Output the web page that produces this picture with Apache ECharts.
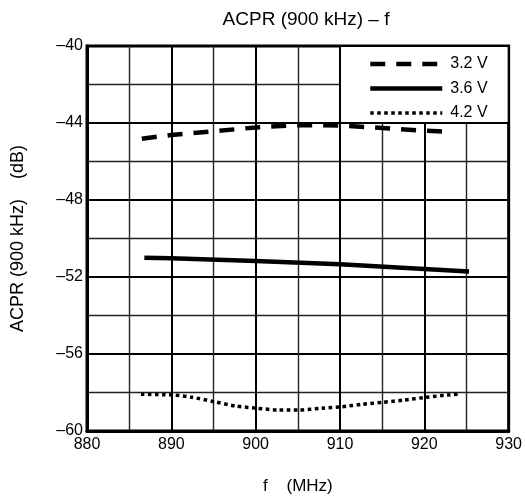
<!DOCTYPE html>
<html>
<head>
<meta charset="utf-8">
<script src="https://cdn.jsdelivr.net/npm/echarts@6/dist/echarts.min.js"></script>
<style>html,body{margin:0;padding:0;background:#fff;}#c{width:525px;height:502px;}</style>
</head>
<body>
<div id="c"></div>
<script>
var xTicksMin = 880, xTicksMax = 930, xStep = 10;
var yTicksMin = -60, yTicksMax = -40, yStep = 4;
var seriesNames = ['3.2 V', '3.6 V', '4.2 V'];
var f32 = [886.5, 890, 895, 900, 905, 910, 915, 920, 922.5];
var v32 = [-44.82, -44.62, -44.43, -44.23, -44.11, -44.13, -44.26, -44.4, -44.45];
var f36 = [886.8, 890, 900, 910, 920, 925.3];
var v36 = [-51.0, -51.03, -51.17, -51.34, -51.58, -51.72];
var f42 = [886.4, 890.2, 892.5, 895.1, 897.6, 900.2, 902.7, 905.1, 907.8, 910.2, 912.7, 915.1, 917.6, 920.2, 922.7, 924.3];
var v42 = [-58.09, -58.13, -58.25, -58.48, -58.70, -58.82, -58.91, -58.91, -58.82, -58.74, -58.61, -58.51, -58.39, -58.25, -58.13, -58.08];
var legendBox = {x0: 910, x1: 930, y0: -44, y1: -40};

function pairs(xs, ys) { return xs.map(function (x, i) { return [x, ys[i]]; }); }
var FONT = 'Liberation Sans, Arial, sans-serif';
var styles = [
  {color: '#000', width: 4.5, type: [15, 11], cap: 'butt'},
  {color: '#000', width: 4.5, type: 'solid'},
  {color: '#000', width: 3.5, type: [3.5, 3.5], cap: 'butt'}
];
var chart = echarts.init(document.getElementById('c'));
chart.setOption({
  animation: false,
  backgroundColor: '#fff',
  title: {
    text: 'ACPR (900 kHz) – f', left: 301, top: 5, textAlign: 'center',
    textStyle: {fontFamily: FONT, fontSize: 19, fontWeight: 'normal', color: '#000'}
  },
  legend: {
    orient: 'vertical', left: 363, top: 51, itemWidth: 72, itemHeight: 14, itemGap: 8.5,
    itemStyle: {opacity: 0, borderWidth: 0},
    textStyle: {fontFamily: FONT, fontSize: 16, color: '#000', padding: [0, 0, 0, 3]},
    data: seriesNames.map(function (n, i) {
      return {name: n, lineStyle: {width: i === 2 ? 3.5 : 4.5, type: styles[i].type, color: '#000'}};
    })
  },
  grid: {left: 87, right: 13, top: 46, bottom: 71, show: true, borderColor: '#000', borderWidth: 3, backgroundColor: 'transparent'},
  xAxis: {
    type: 'value', min: xTicksMin, max: xTicksMax, interval: xStep,
    name: 'f    (MHz)', nameLocation: 'middle', nameGap: 47,
    nameTextStyle: {fontFamily: FONT, fontSize: 17, color: '#000'},
    axisLine: {show: true, lineStyle: {color: '#000', width: 3}},
    axisTick: {show: false},
    axisLabel: {fontFamily: FONT, fontSize: 16, color: '#000', margin: 6},
    splitLine: {show: true, lineStyle: {color: '#000', width: 2}},
    minorTick: {show: false, splitNumber: 2},
    minorSplitLine: {show: true, lineStyle: {color: '#222', width: 1.4}}
  },
  yAxis: {
    type: 'value', min: yTicksMin, max: yTicksMax, interval: yStep,
    name: 'ACPR (900 kHz)    (dB)', nameLocation: 'middle', nameGap: 60,
    nameTextStyle: {fontFamily: FONT, fontSize: 18, color: '#000'},
    axisLine: {show: true, lineStyle: {color: '#000', width: 3}},
    axisTick: {show: false},
    axisLabel: {fontFamily: FONT, fontSize: 16, color: '#000', margin: 4,
      formatter: function (v) { return v < 0 ? '–' + Math.abs(v) : String(v); }},
    splitLine: {show: true, lineStyle: {color: '#000', width: 2}},
    minorTick: {show: false, splitNumber: 2},
    minorSplitLine: {show: true, lineStyle: {color: '#222', width: 1.4}}
  },
  series: [
    {
      name: seriesNames[0], type: 'line', data: pairs(f32, v32), showSymbol: false, symbol: 'none',
      lineStyle: styles[0],
      itemStyle: {color: '#000'},
      markArea: {
        silent: true,
        itemStyle: {color: '#fff', borderColor: '#000', borderWidth: 2},
        data: [[{coord: [legendBox.x0, legendBox.y0]}, {coord: [legendBox.x1, legendBox.y1]}]]
      }
    },
    {
      name: seriesNames[1], type: 'line', data: pairs(f36, v36), showSymbol: false, symbol: 'none',
      lineStyle: styles[1],
      itemStyle: {color: '#000'}
    },
    {
      name: seriesNames[2], type: 'line', data: pairs(f42, v42), showSymbol: false, symbol: 'none', smooth: 0.2,
      lineStyle: styles[2],
      itemStyle: {color: '#000'}
    }
  ]
});
</script>
</body>
</html>
